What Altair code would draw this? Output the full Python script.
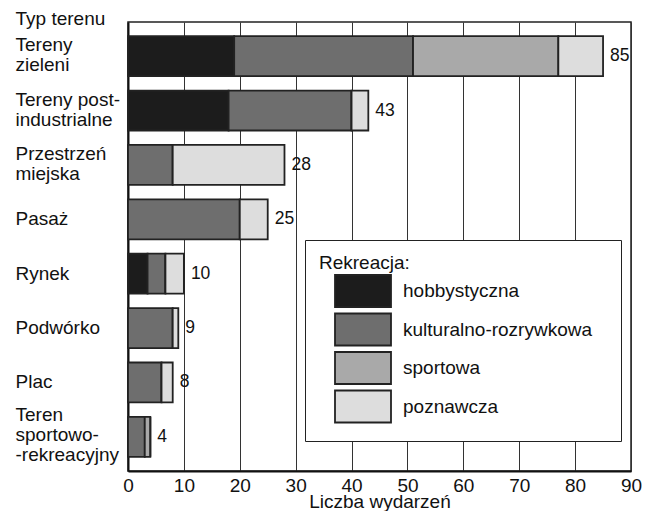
import altair as alt
import pandas as pd

categories = ["Tereny|zieleni", "Tereny post-|industrialne", "Przestrzeń|miejska", "Pasaż",
              "Rynek", "Podwórko", "Plac", "Teren|sportowo-|-rekreacyjny"]
types = ["hobbystyczna", "kulturalno-rozrywkowa", "sportowa", "poznawcza"]
hobbystyczna = [19, 18, 0, 0, 3.5, 0, 0, 0]
kulturalno = [32, 22, 8, 20, 3.2, 8, 6, 3]
sportowa = [26, 0, 0, 0, 0, 0, 0, 1]
poznawcza = [8, 3, 20, 5, 3.3, 1, 2, 0]
colors = ["#1c1c1c", "#6e6e6e", "#a9a9a9", "#dddddd"]
x_ticks = [0, 10, 20, 30, 40, 50, 60, 70, 80, 90]

rows = []
for i, c in enumerate(categories):
    for j, (t, vals) in enumerate(zip(types, [hobbystyczna, kulturalno, sportowa, poznawcza])):
        rows.append({"cat": c, "typ": t, "val": vals[i], "ord": j})
df = pd.DataFrame(rows)

FONT = "Liberation Sans"
FS = 19

base = alt.Chart(df)

bars = base.mark_bar(stroke="#222222", strokeWidth=1.8).encode(
    y=alt.Y("cat:N", sort=categories,
            scale=alt.Scale(paddingInner=0.265, paddingOuter=0.26),
            axis=alt.Axis(title="Typ terenu", titleAngle=0, titleAlign="left",
                          titleBaseline="alphabetic", titleX=-113, titleY=2,
                          titleFontSize=FS, titleFontWeight="normal", titleFont=FONT,
                          titleColor="#111111",
                          labelExpr="split(datum.label, '|')", labelAlign="left",
                          labelBaseline="middle", labelPadding=113, labelFontSize=FS,
                          labelOffset={"expr": "-11 * (length(split(datum.label, '|')) - 1)"},
                          labelLineHeight=20, labelFont=FONT, labelColor="#111111",
                          ticks=False, tickSize=0, domainColor="#111111", domainWidth=2,
                          labelLimit=300)),
    x=alt.X("sum(val):Q", stack="zero",
            scale=alt.Scale(domain=[0, 90], nice=False),
            axis=alt.Axis(title="Liczba wydarzeń", values=x_ticks, grid=True,
                          gridColor="#333333", gridWidth=1, gridOpacity=1,
                          ticks=False, tickSize=0, labelPadding=5, labelFontSize=FS,
                          labelFont=FONT, labelColor="#111111", labelFlush=False,
                          titleFontSize=FS, titleFontWeight="normal", titleFont=FONT,
                          titleColor="#111111", titlePadding=-3,
                          domainColor="#111111", domainWidth=2)),
    color=alt.Color("typ:N", sort=types,
                    scale=alt.Scale(domain=types, range=colors),
                    legend=alt.Legend(title="Rekreacja:", orient="none",
                                      legendX=177, legendY=218,
                                      symbolType="M-1.75,-1H1.75V1H-1.75Z",
                                      symbolSize=1024, symbolStrokeColor="#222222",
                                      symbolStrokeWidth=1.8, symbolOpacity=1,
                                      labelFontSize=FS, labelFont=FONT, labelColor="#111111",
                                      labelOffset=23, titleFontSize=FS, titleFont=FONT,
                                      titleFontWeight="normal", titleColor="#111111",
                                      titlePadding=1, rowPadding=-1.5, padding=14,
                                      symbolOffset=27,
                                      labelExpr="datum.label + '\u2002\u00a0\u200d'",
                                      strokeColor="#222222", fillColor="white",
                                      labelLimit=400)),
    order=alt.Order("ord:Q"),
)

labels = base.mark_text(align="left", baseline="middle", dx=7, fontSize=17.5,
                        font=FONT, color="#111111").encode(
    y=alt.Y("cat:N", sort=categories),
    x=alt.X("sum(val):Q"),
    text=alt.Text("sum(val):Q", format=".0f"),
)

chart = alt.layer(bars, labels).properties(
    width=503, height=449,
    autosize=alt.AutoSizeParams(type="none"),
    padding={"left": 120, "top": 14, "right": 12, "bottom": 40},
).configure_view(stroke="#222222", strokeWidth=1.5)

chart.save("out.html", embed_options={"renderer": "svg", "actions": False})
